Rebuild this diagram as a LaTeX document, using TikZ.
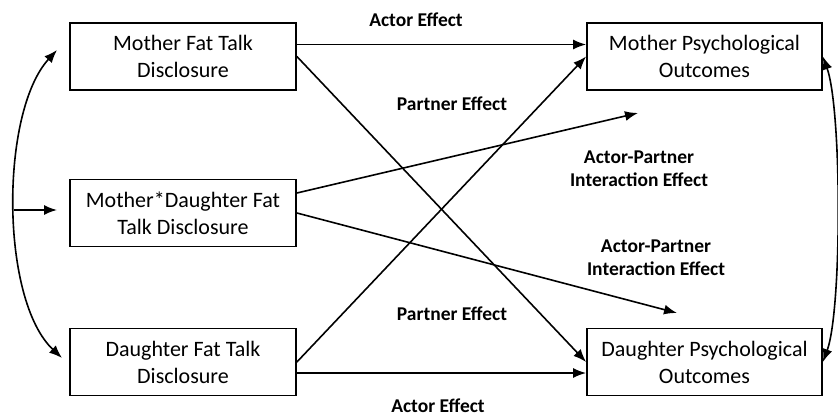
\documentclass[tikz,border=0pt]{standalone}
\usepackage{fontspec}
\setmainfont{Carlito}
\usetikzlibrary{arrows.meta,calc,positioning}
\tikzset{
  varbox/.style={draw,line width=1.8pt,align=center,minimum height=67pt,
    inner sep=2pt,font=\fontsize{22}{27}\selectfont},
  efflabel/.style={align=center,font=\fontsize{19.5}{23}\bfseries\selectfont},
  effarrow/.style={->,line width=1.6pt}
}
\begin{document}
\begin{tikzpicture}[x=1pt,y=-1pt,>={Latex[length=13pt,width=10pt]}]
      \useasboundingbox (0,0) rectangle (838,420);
      % predictors
      \node[varbox,minimum width=226pt] (MFT) at (183,56.5) {Mother Fat Talk\\Disclosure};
      \node[varbox,minimum width=226pt] (MDFT) at (183,213) {Mother*Daughter Fat\\Talk Disclosure};
      \node[varbox,minimum width=226pt] (DFT) at (183,362) {Daughter Fat Talk\\Disclosure};
      % outcomes
      \node[varbox,minimum width=235pt] (MPO) at (704.5,56.5) {Mother Psychological\\Outcomes};
      \node[varbox,minimum width=235pt] (DPO) at (704.5,362) {Daughter Psychological\\Outcomes};
      \coordinate (topTip) at (57,50);
      \coordinate (botTip) at (62,358);
      \coordinate (midL) at (14,210);
      \coordinate (apieM) at (638,113);
      \coordinate (apieD) at (677,313);
      % actor and partner paths
      \draw[effarrow] ([yshift=12pt]MFT.east) -- ([yshift=12pt]MPO.west);
      \draw[effarrow] ([yshift=-11pt]DFT.east) -- ([yshift=-11pt]DPO.west);
      \draw[effarrow] (MFT.east) -- (DPO.west);
      \draw[effarrow] (DFT.east) -- (MPO.west);
      % interaction paths
      \draw[effarrow] ([yshift=20pt]MDFT.east) -- (apieM);
      \draw[effarrow] (MDFT.east) -- (apieD);
      % covariances
      \draw[effarrow,<->] (botTip) .. controls (0,300) and (0,112) .. (topTip);
      \draw[effarrow] (midL) -- (midL -| topTip);
      \draw[effarrow,<->] (MPO.east) .. controls (842,110) and (842,310) .. (DPO.east);
      % labels
      \node[efflabel] (actM) at (416,20) {Actor Effect};
      \node[efflabel] (prtM) at (452,104) {Partner Effect};
      \node[efflabel] (apiM) at (639,169) {Actor-Partner\\Interaction Effect};
      \node[efflabel] (apiD) at (656,258) {Actor-Partner\\Interaction Effect};
      \node[efflabel] (prtD) at (452,314) {Partner Effect};
      \node[efflabel] (actD) at (438,406) {Actor Effect};
    \end{tikzpicture}
\end{document}
